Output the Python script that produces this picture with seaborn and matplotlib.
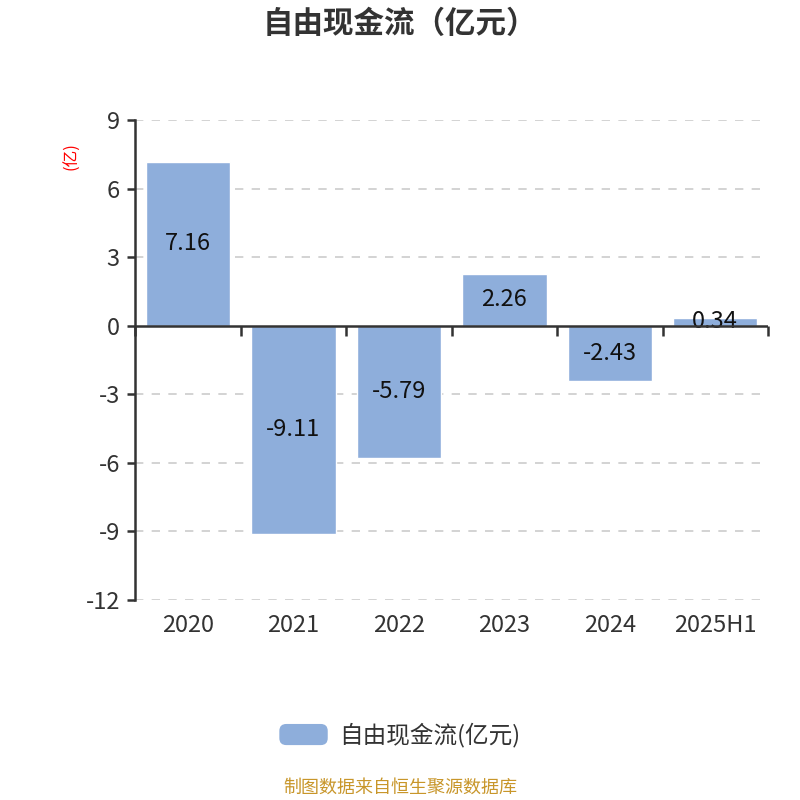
import seaborn as sns
import matplotlib.pyplot as plt
import numpy as np
import pandas as pd
from matplotlib.patches import FancyBboxPatch
from matplotlib.legend_handler import HandlerPatch

# 数据
years = ['2020', '2021', '2022', '2023', '2024', '2025H1']
fcf = [7.16, -9.11, -5.79, 2.26, -2.43, 0.34]
yticks = [-12, -9, -6, -3, 0, 3, 6, 9]

sns.set_style("white")
plt.rcParams['font.family'] = ['Noto Sans CJK SC', 'DejaVu Sans']

bar_color = '#8eaedb'
df = pd.DataFrame({'year': years, 'value': fcf})


class RoundHandler(HandlerPatch):
    # 图例圆角色块
    def create_artists(self, legend, orig_handle, xdescent, ydescent,
                       width, height, fontsize, trans):
        p = FancyBboxPatch((-xdescent, -ydescent), width, height,
                           boxstyle='round,pad=0,rounding_size=5',
                           facecolor=bar_color, edgecolor='none', transform=trans)
        return [p]


fig = plt.figure(figsize=(8, 8), dpi=100)
ax = fig.add_axes([0.169, 0.25, 0.791, 0.6])

sns.barplot(data=df, x='year', y='value', color=bar_color, width=0.8,
            saturation=1, ax=ax, zorder=3)
ax.bar_label(ax.containers[0], labels=[f'{v:.2f}' for v in fcf],
             label_type='center', fontsize=17, color='#111111', zorder=4)

ax.set_ylim(-12, 9)
ax.set_xlim(-0.5, len(years) - 0.5)
ax.set_yticks(yticks)
ax.set_yticklabels([str(t) for t in yticks])
for t in yticks:
    if t != 0:
        ax.axhline(t, color='#cccccc', linestyle=(0, (5, 5)), linewidth=1.2, zorder=1)

# 零线与分隔刻度
ax.axhline(0, color='#333333', linewidth=1.8, zorder=5)
bounds = np.arange(len(years) + 1) - 0.5
ax.plot(bounds, np.zeros_like(bounds), linestyle='none', marker=3,
        markersize=7, markeredgewidth=1.8, color='#333333', zorder=5, clip_on=False)

for s in ['top', 'right', 'bottom']:
    ax.spines[s].set_visible(False)
ax.spines['left'].set_color('#333333')
ax.spines['left'].set_linewidth(1.8)

ax.tick_params(axis='y', length=6, width=1.8, color='#333333', labelsize=17,
               labelcolor='#333333', pad=5, left=True)
ax.tick_params(axis='x', length=0, labelsize=17, labelcolor='#333333', pad=10)
ax.set_xlabel('')
ax.set_ylabel('')

fig.text(0.09, 0.805, '(亿)', color='red', fontsize=12, rotation=90,
         ha='center', va='center')

fig.text(0.5, 0.97, '自由现金流（亿元）', fontsize=22, fontweight='bold',
         color='#333333', ha='center', va='center')

handle = plt.Rectangle((0, 0), 1, 1, facecolor=bar_color, edgecolor='none')
fig.legend([handle], ['自由现金流(亿元)'], loc='center', bbox_to_anchor=(0.5, 0.081),
           frameon=False, fontsize=17, handlelength=2.05, handleheight=1.0,
           handletextpad=0.5, labelcolor='#333333',
           handler_map={plt.Rectangle: RoundHandler()})

fig.text(0.5, 0.015, '制图数据来自恒生聚源数据库', fontsize=13, color='#c8962a',
         ha='center', va='center')

plt.savefig('out.png', dpi=100)
plt.close()
